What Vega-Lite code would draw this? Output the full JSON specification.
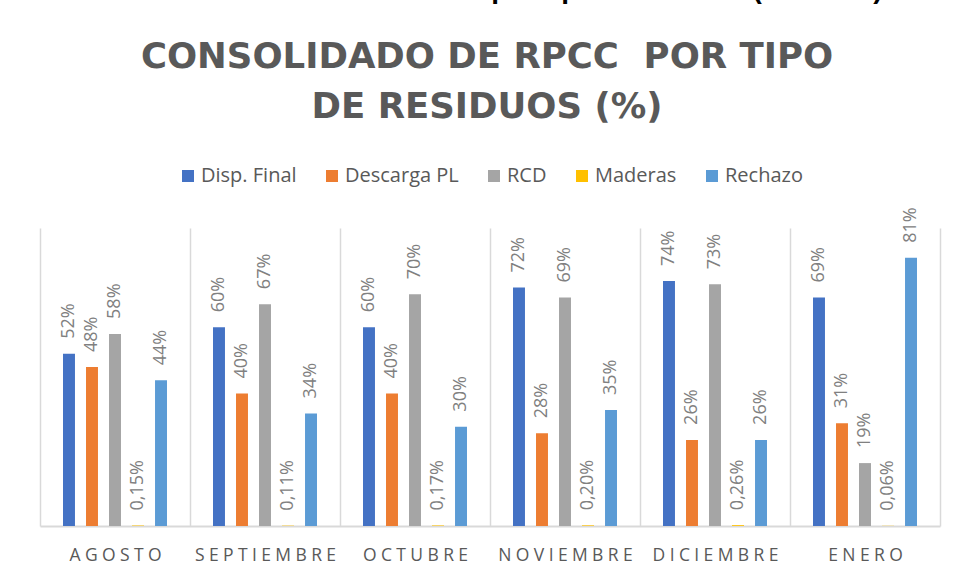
{
  "$schema": "https://vega.github.io/schema/vega-lite/v6.json",
  "autosize": {"type": "none"},
  "width": 900,
  "height": 298,
  "padding": {"left": 40, "top": 228, "right": 18, "bottom": 53},
  "background": "white",
  "title": {
    "text": "Gráfica 2. Consolidado RPCC por tipo de residuo (Ton/Mes)",
    "subtitle": ["CONSOLIDADO DE RPCC \u00a0POR TIPO", "DE RESIDUOS (%)"],
    "anchor": "middle",
    "orient": "top",
    "offset": 41,
    "dx": -3,
    "font": "Liberation Sans",
    "fontSize": 28,
    "fontWeight": "bold",
    "color": "#000000",
    "subtitleFont": "DejaVu Sans",
    "subtitleFontSize": 35.5,
    "subtitleFontWeight": "bold",
    "subtitleColor": "#595959",
    "subtitleLineHeight": 50,
    "subtitlePadding": 36,
    "limit": 1000
  },
  "data": {
    "values": [
      {"mes": "AGOSTO", "tipo": "Disp. Final", "valor": 0.52, "etiqueta": "52%"},
      {"mes": "AGOSTO", "tipo": "Descarga PL", "valor": 0.48, "etiqueta": "48%"},
      {"mes": "AGOSTO", "tipo": "RCD", "valor": 0.58, "etiqueta": "58%"},
      {"mes": "AGOSTO", "tipo": "Maderas", "valor": 0.0015, "etiqueta": "0,15%"},
      {"mes": "AGOSTO", "tipo": "Rechazo", "valor": 0.44, "etiqueta": "44%"},
      {"mes": "SEPTIEMBRE", "tipo": "Disp. Final", "valor": 0.60, "etiqueta": "60%"},
      {"mes": "SEPTIEMBRE", "tipo": "Descarga PL", "valor": 0.40, "etiqueta": "40%"},
      {"mes": "SEPTIEMBRE", "tipo": "RCD", "valor": 0.67, "etiqueta": "67%"},
      {"mes": "SEPTIEMBRE", "tipo": "Maderas", "valor": 0.0011, "etiqueta": "0,11%"},
      {"mes": "SEPTIEMBRE", "tipo": "Rechazo", "valor": 0.34, "etiqueta": "34%"},
      {"mes": "OCTUBRE", "tipo": "Disp. Final", "valor": 0.60, "etiqueta": "60%"},
      {"mes": "OCTUBRE", "tipo": "Descarga PL", "valor": 0.40, "etiqueta": "40%"},
      {"mes": "OCTUBRE", "tipo": "RCD", "valor": 0.70, "etiqueta": "70%"},
      {"mes": "OCTUBRE", "tipo": "Maderas", "valor": 0.0017, "etiqueta": "0,17%"},
      {"mes": "OCTUBRE", "tipo": "Rechazo", "valor": 0.30, "etiqueta": "30%"},
      {"mes": "NOVIEMBRE", "tipo": "Disp. Final", "valor": 0.72, "etiqueta": "72%"},
      {"mes": "NOVIEMBRE", "tipo": "Descarga PL", "valor": 0.28, "etiqueta": "28%"},
      {"mes": "NOVIEMBRE", "tipo": "RCD", "valor": 0.69, "etiqueta": "69%"},
      {"mes": "NOVIEMBRE", "tipo": "Maderas", "valor": 0.0020, "etiqueta": "0,20%"},
      {"mes": "NOVIEMBRE", "tipo": "Rechazo", "valor": 0.35, "etiqueta": "35%"},
      {"mes": "DICIEMBRE", "tipo": "Disp. Final", "valor": 0.74, "etiqueta": "74%"},
      {"mes": "DICIEMBRE", "tipo": "Descarga PL", "valor": 0.26, "etiqueta": "26%"},
      {"mes": "DICIEMBRE", "tipo": "RCD", "valor": 0.73, "etiqueta": "73%"},
      {"mes": "DICIEMBRE", "tipo": "Maderas", "valor": 0.0026, "etiqueta": "0,26%"},
      {"mes": "DICIEMBRE", "tipo": "Rechazo", "valor": 0.26, "etiqueta": "26%"},
      {"mes": "ENERO", "tipo": "Disp. Final", "valor": 0.69, "etiqueta": "69%"},
      {"mes": "ENERO", "tipo": "Descarga PL", "valor": 0.31, "etiqueta": "31%"},
      {"mes": "ENERO", "tipo": "RCD", "valor": 0.19, "etiqueta": "19%"},
      {"mes": "ENERO", "tipo": "Maderas", "valor": 0.0006, "etiqueta": "0,06%"},
      {"mes": "ENERO", "tipo": "Rechazo", "valor": 0.81, "etiqueta": "81%"}
    ]
  },
  "encoding": {
    "x": {
      "field": "mes",
      "type": "nominal",
      "sort": ["AGOSTO", "SEPTIEMBRE", "OCTUBRE", "NOVIEMBRE", "DICIEMBRE", "ENERO"],
      "scale": {"paddingInner": 0, "paddingOuter": 0},
      "axis": {
        "title": null,
        "labelAngle": 0,
        "ticks": false,
        "grid": true,
        "gridColor": "#d9d9d9",
        "gridWidth": 1.5,
        "tickBand": "extent",
        "domainColor": "#d9d9d9",
        "domainWidth": 2,
        "labelFont": "Open Sans",
        "labelFontSize": 17.5,
        "labelColor": "#595959",
        "labelPadding": 20,
        "labelLimit": 300,
        "labelExpr": "join(split(datum.label, ''), '\u2005')"
      }
    },
    "xOffset": {
      "field": "tipo",
      "type": "nominal",
      "sort": ["Disp. Final", "Descarga PL", "RCD", "Maderas", "Rechazo"],
      "scale": {"paddingInner": 0.48, "paddingOuter": 1.165}
    },
    "y": {
      "field": "valor",
      "type": "quantitative",
      "scale": {"domain": [0, 0.9], "nice": false},
      "axis": null
    }
  },
  "layer": [
    {
      "mark": {"type": "bar"},
      "encoding": {
        "color": {
          "field": "tipo",
          "type": "nominal",
          "sort": ["Disp. Final", "Descarga PL", "RCD", "Maderas", "Rechazo"],
          "scale": {
            "domain": ["Disp. Final", "Descarga PL", "RCD", "Maderas", "Rechazo"],
            "range": ["#4472C4", "#ED7D31", "#A5A5A5", "#FFC000", "#5B9BD5"]
          },
          "legend": {
            "title": null,
            "orient": "top",
            "direction": "horizontal",
            "offset": 42,
            "symbolType": "square",
            "symbolSize": 144,
            "symbolStrokeWidth": 0,
            "labelFont": "Open Sans",
            "labelFontSize": 20,
            "labelColor": "#595959",
            "labelOffset": 3,
            "columnPadding": 25,
            "labelLimit": 300
          }
        }
      }
    },
    {
      "mark": {
        "type": "text",
        "angle": -90,
        "align": "left",
        "baseline": "middle",
        "dx": 15,
        "font": "Open Sans",
        "fontSize": 18,
        "color": "#808080"
      },
      "encoding": {
        "text": {"field": "etiqueta", "type": "nominal"}
      }
    }
  ],
  "config": {
    "view": {"stroke": null},
    "legend": {"layout": {"top": {"anchor": "middle"}}}
  }
}
